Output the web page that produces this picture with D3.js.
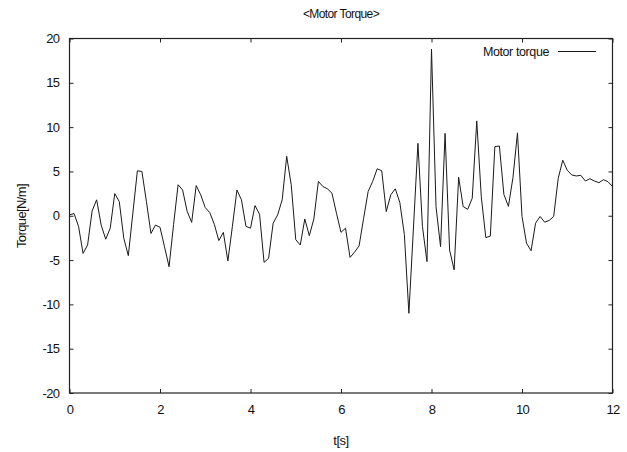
<!DOCTYPE html>
<html>
<head>
<meta charset="utf-8">
<script src="https://cdn.jsdelivr.net/npm/d3@7"></script>
<style>
  html, body { margin: 0; padding: 0; background: #fff; }
  svg text { font-family: "Liberation Sans", Arial, sans-serif; fill: #111; }
</style>
</head>
<body>
<svg id="chart" width="627" height="452"></svg>
<script>
// Motor torque sampled every 0.1 s from 0 to 12 s
const timeStep = 0.1;
const torque = [
  0.1, 0.25, -1.2, -4.25, -3.3, 0.55, 1.8, -1.05, -2.65, -1.4,
  2.5, 1.6, -2.55, -4.5, 0.3, 5.07, 5.0, 1.6, -2.0, -1.05,
  -1.3, -3.5, -5.75, -1.0, 3.5, 2.9, 0.5, -0.75, 3.4, 2.36,
  0.92, 0.36, -0.96, -2.8, -1.87, -5.1, -1.2, 2.9, 1.8, -1.2,
  -1.4, 1.15, 0.17, -5.26, -4.8, -0.85, 0.1, 1.8, 6.7, 3.5,
  -2.7, -3.3, -0.36, -2.25, -0.36, 3.87, 3.3, 3.04, 2.55, 0.28,
  -1.87, -1.4, -4.7, -4.1, -3.4, -0.28, 2.74, 3.87, 5.3, 5.08,
  0.47, 2.36, 3.04, 1.5, -2.1, -11.0, -1.5, 8.17, -1.2, -5.18,
  18.8, 1.03, -3.49, 9.3, -3.87, -6.1, 4.34, 1.03, 0.73, 1.97,
  10.7, 2.16, -2.47, -2.3, 7.8, 7.87, 2.4, 1.06, 4.3, 9.35,
  -0.08, -3.1, -3.95, -0.84, -0.08, -0.72, -0.53, -0.08, 4.2, 6.27,
  5.13, 4.6, 4.49, 4.56, 3.92, 4.18, 3.92, 3.73, 4.07, 3.84,
  3.3
];
const xTicks = [0, 2, 4, 6, 8, 10, 12];
const yTicks = [-20, -15, -10, -5, 0, 5, 10, 15, 20];
const titleText = "<Motor Torque>";
const xLabel = "t[s]";
const yLabel = "Torque[N/m]";
const seriesName = "Motor torque";

const svg = d3.select("#chart");
const plotLeft = 69.5, plotRight = 612.5, plotTop = 38.5, plotBottom = 393;

const x = d3.scaleLinear().domain([0, 12]).range([plotLeft, plotRight]);
const y = d3.scaleLinear().domain([-20, 20]).range([plotBottom, plotTop]);

const points = torque.map((v, i) => [i * timeStep, v]);

// plain ASCII hyphen for negative tick labels
const plainNumber = d => String(d);

// frame
svg.append("rect")
  .attr("x", plotLeft).attr("y", plotTop)
  .attr("width", plotRight - plotLeft).attr("height", plotBottom - plotTop)
  .attr("fill", "none").attr("stroke", "#222").attr("stroke-width", 1.2);

// inward ticks on all four sides
const tickLen = 4;
const axisBottom = d3.axisBottom(x).tickValues(xTicks).tickSizeInner(-tickLen).tickSizeOuter(0).tickPadding(12).tickFormat(plainNumber);
const axisTop = d3.axisTop(x).tickValues(xTicks).tickSizeInner(-tickLen).tickSizeOuter(0).tickFormat("");
const axisLeft = d3.axisLeft(y).tickValues(yTicks).tickSizeInner(-tickLen).tickSizeOuter(0).tickPadding(10).tickFormat(plainNumber);
const axisRight = d3.axisRight(y).tickValues(yTicks).tickSizeInner(-tickLen).tickSizeOuter(0).tickFormat("");

function styleAxis(g) {
  g.select(".domain").remove();
  g.selectAll(".tick line").attr("stroke", "#222").attr("stroke-width", 1);
  g.selectAll(".tick text")
    .attr("font-size", 13)
    .attr("letter-spacing", "-0.6px")
    .attr("fill", "#111")
    .attr("font-family", "'Liberation Sans', Arial, sans-serif");
}

svg.append("g").attr("transform", `translate(0,${plotBottom})`).call(axisBottom).call(styleAxis);
svg.append("g").attr("transform", `translate(0,${plotTop})`).call(axisTop).call(styleAxis);
svg.append("g").attr("transform", `translate(${plotLeft},0)`).call(axisLeft).call(styleAxis);
svg.append("g").attr("transform", `translate(${plotRight},0)`).call(axisRight).call(styleAxis);

// torque curve
svg.append("path")
  .datum(points)
  .attr("fill", "none")
  .attr("stroke", "#1a1a1a")
  .attr("stroke-width", 1)
  .attr("stroke-linejoin", "miter")
  .attr("d", d3.line().x(d => x(d[0])).y(d => y(d[1])));

// title and axis labels
svg.append("text")
  .attr("x", 341).attr("y", 18)
  .attr("text-anchor", "middle")
  .attr("font-size", 12).attr("letter-spacing", "-0.6px")
  .text(titleText);

svg.append("text")
  .attr("x", 341).attr("y", 445)
  .attr("text-anchor", "middle")
  .attr("font-size", 13).attr("letter-spacing", "-0.5px")
  .text(xLabel);

svg.append("text")
  .attr("transform", "translate(26,216) rotate(-90)")
  .attr("text-anchor", "middle")
  .attr("font-size", 13).attr("letter-spacing", "-0.6px")
  .text(yLabel);

// legend
svg.append("text")
  .attr("x", 549).attr("y", 56)
  .attr("text-anchor", "end")
  .attr("font-size", 12.5).attr("letter-spacing", "-0.4px")
  .text(seriesName);
svg.append("line")
  .attr("x1", 558).attr("x2", 596)
  .attr("y1", 51.5).attr("y2", 51.5)
  .attr("stroke", "#1a1a1a").attr("stroke-width", 1);
</script>
</body>
</html>
